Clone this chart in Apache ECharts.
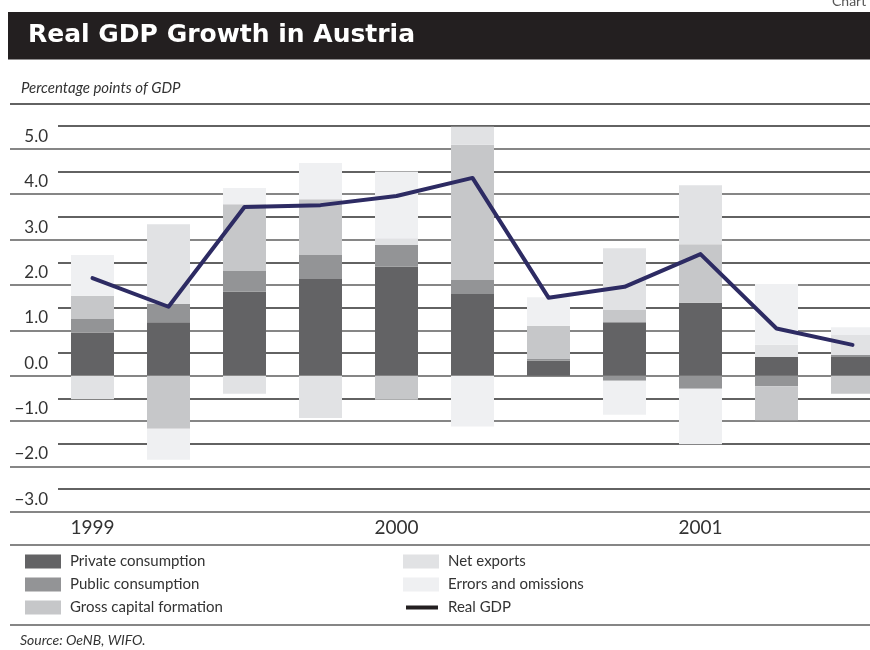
<!DOCTYPE html>
<html>
<head>
<meta charset="utf-8">
<script src="https://cdn.jsdelivr.net/npm/echarts@6/dist/echarts.min.js"></script>
<style>
  html, body { margin: 0; padding: 0; background: #fff; }
  #chart { width: 870px; height: 650px; }
</style>
</head>
<body>
<div id="chart"></div>
<script>
// Quarterly contributions to real GDP growth, percentage points
const quarters = ['1999 Q1', '1999 Q2', '1999 Q3', '1999 Q4',
                  '2000 Q1', '2000 Q2', '2000 Q3', '2000 Q4',
                  '2001 Q1', '2001 Q2', '2001 Q3'];
const yearLabels = { 0: '1999', 4: '2000', 8: '2001' };

const privateConsumption = [0.95, 1.18, 1.85, 2.13, 2.40, 1.80, 0.33, 1.18, 1.61, 0.41, 0.41];
const publicConsumption  = [0.30, 0.40, 0.46, 0.53, 0.48, 0.31, 0.05, -0.11, -0.29, -0.23, 0.05];
const grossCapital       = [0.51, -1.17, 1.47, 1.23, -0.53, 2.98, 0.72, 0.27, 1.29, -0.75, -0.40];
const netExports         = [-0.52, 1.76, -0.40, -0.93, 0.15, 0.40, 0.00, 1.36, 1.30, 0.27, 0.44];
const errorsOmissions    = [0.90, -0.68, 0.36, 0.80, 1.47, -1.12, 0.63, -0.75, -1.22, 1.34, 0.17];
const realGDP            = [2.15, 1.52, 3.72, 3.76, 3.96, 4.36, 1.72, 1.96, 2.68, 1.04, 0.68];

const yTicks = { min: -3, max: 5.5, step: 0.5 };

const chart = echarts.init(document.getElementById('chart'), null, { renderer: 'canvas' });

const FONT = 'Lato, "Open Sans", sans-serif';
const TEXT = '#333333';

function fmtTick(v) {
  if (Math.abs(v - Math.round(v)) > 1e-6) return '';
  const s = Math.abs(v).toFixed(1);
  return v < 0 ? '\u2212' + s : s;
}

const gridTop = 126.2, gridHeight = 385.6;

function bar(name, data, color) {
  return {
    name, type: 'bar', stack: 'contrib', data,
    xAxisIndex: 0, yAxisIndex: 0,
    barWidth: 43,
    itemStyle: { color },
    emphasis: { disabled: true },
    z: 3
  };
}

const option = {
  animation: false,
  backgroundColor: '#ffffff',
  grid: [
    // bars + line; the plot runs past the right edge of the page
    { left: 54.5, width: 836, top: gridTop, height: gridHeight, outerBoundsMode: 'none', containLabel: false },
    // whole-number rules
    { left: 10, right: 0, top: gridTop, height: gridHeight, outerBoundsMode: 'none', containLabel: false },
    // half-step rules
    { left: 58, right: 0, top: gridTop, height: gridHeight, outerBoundsMode: 'none', containLabel: false }
  ],
  xAxis: [
    {
      gridIndex: 0, type: 'category', data: quarters,
      axisLine: { show: false }, axisTick: { show: false },
      axisLabel: {
        interval: 0, margin: 7,
        formatter: (v, i) => yearLabels[i] || '',
        fontFamily: FONT, fontSize: 19, color: TEXT
      },
      splitLine: { show: false }
    },
    { gridIndex: 1, type: 'value', show: false },
    { gridIndex: 2, type: 'value', show: false }
  ],
  yAxis: [
    {
      gridIndex: 0, type: 'value', min: yTicks.min, max: yTicks.max, interval: yTicks.step,
      axisLine: { show: false }, axisTick: { show: false }, axisLabel: { show: false },
      splitLine: { show: false }
    },
    {
      gridIndex: 1, type: 'value', min: yTicks.min, max: yTicks.max, interval: yTicks.step,
      axisLine: { show: false }, axisTick: { show: false },
      axisLabel: {
        inside: true, margin: 38, align: 'right', verticalAlign: 'bottom',
        padding: [0, 0, 4, 0],
        formatter: fmtTick, fontFamily: FONT, fontSize: 17, color: TEXT,
        showMinLabel: true, showMaxLabel: true
      },
      splitLine: { show: true, lineStyle: { color: ['#5e5e5e', 'rgba(0,0,0,0)'], width: 1.6 } }
    },
    {
      gridIndex: 2, type: 'value', min: yTicks.min, max: yTicks.max, interval: yTicks.step,
      axisLine: { show: false }, axisTick: { show: false }, axisLabel: { show: false },
      splitLine: { show: true, lineStyle: { color: ['rgba(0,0,0,0)', '#2e2e2e'], width: 1.6 } }
    }
  ],
  legend: [
    {
      left: 20, top: 549, orient: 'vertical', itemGap: 8,
      itemWidth: 36, itemHeight: 14, icon: 'rect',
      selectedMode: false,
      textStyle: { fontFamily: FONT, fontSize: 15, color: TEXT, padding: [0, 0, 0, 4] },
      data: ['Private consumption', 'Public consumption', 'Gross capital formation']
    },
    {
      left: 398, top: 549, orient: 'vertical', itemGap: 8,
      itemWidth: 36, itemHeight: 14, icon: 'rect',
      selectedMode: false,
      textStyle: { fontFamily: FONT, fontSize: 15, color: TEXT, padding: [0, 0, 0, 4] },
      data: [
        'Net exports',
        'Errors and omissions',
        {
          name: 'Real GDP',
          icon: 'path://M0,0h0.01v0.01h-0.01z M2,5h32v4h-32z M0,14h0.01v0.01h-0.01z',
          itemStyle: { color: '#231f20' }
        }
      ]
    }
  ],
  graphic: [
    { type: 'rect', shape: { x: 8, y: 12, width: 862, height: 47.5 }, style: { fill: '#231f20' }, silent: true },
    { type: 'text', left: 28, top: 23, style: { text: 'Real GDP Growth in Austria', fill: '#ffffff',
      font: 'bold 25px "DejaVu Sans", sans-serif' }, silent: true },
    { type: 'text', left: 832, top: -6, style: { text: 'Chart', fill: '#555', font: '14px ' + FONT }, silent: true },
    { type: 'text', left: 21, top: 81, style: { text: 'Percentage points of GDP', fill: TEXT,
      font: 'italic 15px ' + FONT }, silent: true },
    { type: 'line', shape: { x1: 10, y1: 104, x2: 870, y2: 104 }, style: { stroke: '#2e2e2e', lineWidth: 1.6 }, silent: true },
    { type: 'line', shape: { x1: 10, y1: 545, x2: 870, y2: 545 }, style: { stroke: '#5e5e5e', lineWidth: 1.6 }, silent: true },
    { type: 'line', shape: { x1: 10, y1: 625, x2: 870, y2: 625 }, style: { stroke: '#5e5e5e', lineWidth: 1.6 }, silent: true },
    { type: 'text', left: 20, top: 633, style: { text: 'Source: OeNB, WIFO.', fill: TEXT,
      font: 'italic 14px ' + FONT }, silent: true }
  ],
  series: [
    bar('Private consumption', privateConsumption, '#636365'),
    bar('Public consumption', publicConsumption, '#939496'),
    bar('Gross capital formation', grossCapital, '#c6c7c9'),
    bar('Net exports', netExports, '#e1e2e4'),
    bar('Errors and omissions', errorsOmissions, '#eff0f2'),
    {
      name: 'Real GDP', type: 'line', data: realGDP,
      xAxisIndex: 0, yAxisIndex: 0,
      symbol: 'none',
      lineStyle: { color: '#2d2b63', width: 4, cap: 'round', join: 'round' },
      itemStyle: { color: '#231f20' },
      emphasis: { disabled: true },
      z: 5
    }
  ]
};

chart.setOption(option);
</script>
</body>
</html>
